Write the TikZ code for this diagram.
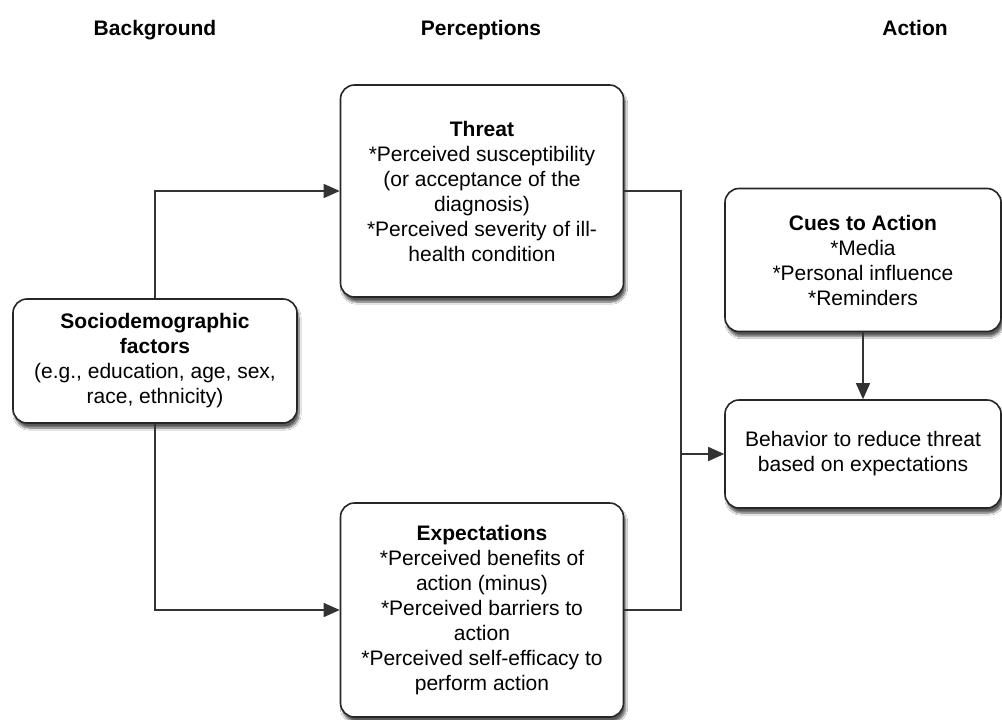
\documentclass[tikz,border=0pt]{standalone}
\usepackage{fontspec}
\setmainfont{Liberation Sans}
\usetikzlibrary{arrows.meta,shadows.blur}
\begin{document}
\begin{tikzpicture}[x=1pt,y=-1pt,
  box/.style={draw=black!85,line width=1.6pt,rounded corners=14pt,fill=white,
    align=center,inner sep=0pt,
    font=\fontsize{21}{25}\selectfont,
    blur shadow={shadow xshift=2pt,shadow yshift=-5pt,shadow blur steps=8,shadow blur extra rounding=2pt,shadow opacity=65}},
  head/.style={font=\fontsize{21}{25}\selectfont\bfseries,anchor=base},
  conn/.style={draw=black!80,line width=1.4pt},
  arr/.style={conn,-{Triangle[length=16pt,width=14pt]}}]
\useasboundingbox[fill=white] (0,0) rectangle (1002,720);
\node[head] (hb) at (155,35) {Background};
\node[head] (hp) at (481,35) {Perceptions};
\node[head] (ha) at (915,35) {Action};

\node[box,minimum width=283pt,minimum height=212pt] (threat) at (482,191)
  {\textbf{Threat}\\*Perceived susceptibility\\(or acceptance of the\\diagnosis)\\*Perceived severity of ill-\\health condition};
\node[box,minimum width=284pt,minimum height=124pt] (socio) at (155,361)
  {\textbf{Sociodemographic}\\\textbf{factors}\\(e.g., education, age, sex,\\race, ethnicity)};
\node[box,minimum width=276pt,minimum height=143pt] (cues) at (863,260)
  {\textbf{Cues to Action}\\*Media\\*Personal influence\\*Reminders};
\node[box,minimum width=276pt,minimum height=108pt] (beh) at (863,454)
  {Behavior to reduce threat\\based on expectations};
\node[box,minimum width=283pt,minimum height=214pt] (exp) at (482,610)
  {\textbf{Expectations}\\*Perceived benefits of\\action (minus)\\*Perceived barriers to\\action\\*Perceived self-efficacy to\\perform action};

\coordinate (j) at (681,454);
\draw[arr] (socio.north) |- (threat.west);
\draw[arr] (socio.south) |- (exp.west);
\draw[conn] (threat.east) -| (j);
\draw[conn] (exp.east) -| (j);
\draw[arr] (j) -- (beh.west);
\draw[arr] (cues.south) -- (beh.north);
\end{tikzpicture}
\end{document}
